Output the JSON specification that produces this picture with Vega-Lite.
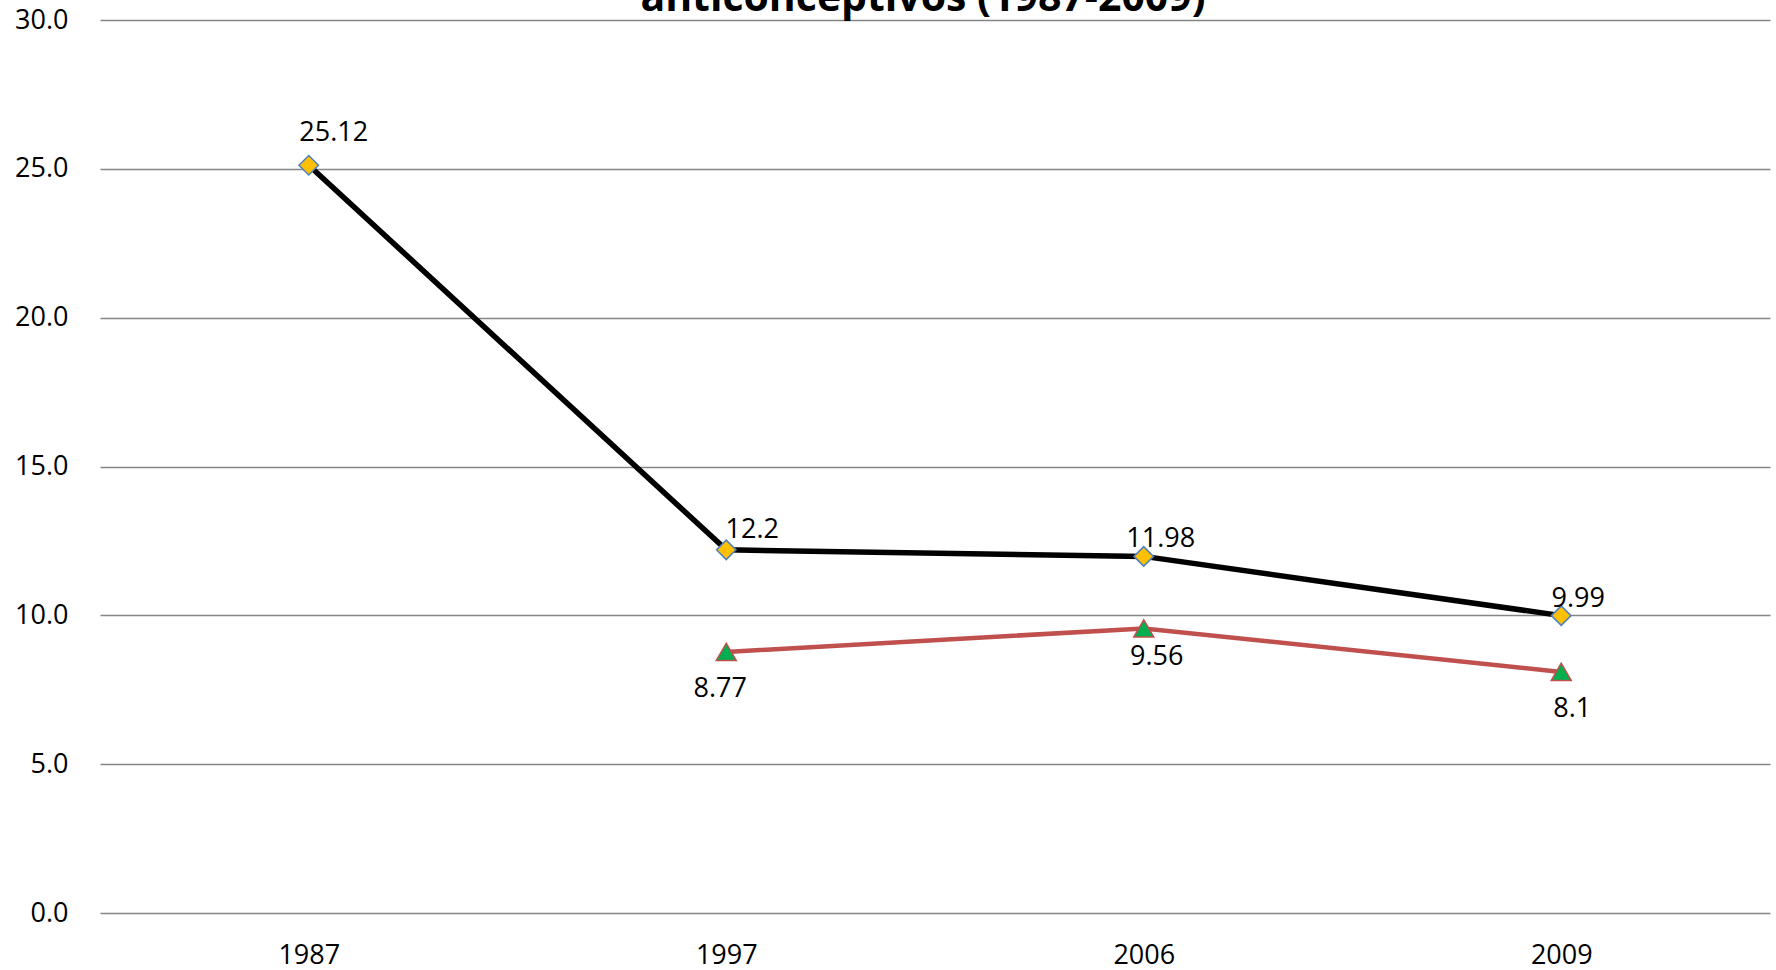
{
  "$schema": "https://vega.github.io/schema/vega-lite/v6.json",
  "width": 1670,
  "height": 893,
  "autosize": {"type": "none"},
  "padding": {"left": 100, "top": 20, "right": 6, "bottom": 57},
  "background": "white",
  "title": {
    "text": "anticonceptivos (1987-2009)",
    "frame": "group",
    "anchor": "middle",
    "orient": "top",
    "offset": 0,
    "baseline": "alphabetic",
    "font": "Open Sans",
    "fontSize": 41,
    "fontWeight": "bold",
    "color": "black",
    "dx": -12,
    "dy": 46
  },
  "config": {"view": {"stroke": null}},
  "data": {
    "values": [
      {"serie": "Serie 1", "anio": "1987", "valor": 25.12},
      {"serie": "Serie 1", "anio": "1997", "valor": 12.2},
      {"serie": "Serie 1", "anio": "2006", "valor": 11.98},
      {"serie": "Serie 1", "anio": "2009", "valor": 9.99},
      {"serie": "Serie 2", "anio": "1997", "valor": 8.77},
      {"serie": "Serie 2", "anio": "2006", "valor": 9.56},
      {"serie": "Serie 2", "anio": "2009", "valor": 8.1}
    ]
  },
  "encoding": {
    "x": {
      "field": "anio",
      "type": "ordinal",
      "sort": ["1987", "1997", "2006", "2009"],
      "scale": {"type": "point", "padding": 0.5},
      "axis": {
        "title": null,
        "labelAngle": 0,
        "domain": false,
        "ticks": false,
        "tickSize": 0,
        "grid": false,
        "labelPadding": 50,
        "labelBaseline": "alphabetic",
        "labelFont": "Open Sans",
        "labelFontSize": 27,
        "labelColor": "black"
      }
    },
    "y": {
      "field": "valor",
      "type": "quantitative",
      "scale": {"domain": [0, 30], "nice": false},
      "axis": {
        "title": null,
        "values": [0, 5, 10, 15, 20, 25, 30],
        "format": ".1f",
        "grid": true,
        "gridColor": "#868686",
        "gridWidth": 1.5,
        "domain": false,
        "ticks": false,
        "tickSize": 0,
        "labelPadding": 32,
        "labelFont": "Open Sans",
        "labelFontSize": 27,
        "labelColor": "black"
      }
    }
  },
  "layer": [
    {
      "transform": [{"filter": "datum.serie === 'Serie 1'"}],
      "mark": {"type": "line", "color": "black", "strokeWidth": 5.5}
    },
    {
      "transform": [{"filter": "datum.serie === 'Serie 2'"}],
      "mark": {"type": "line", "color": "#C0504D", "strokeWidth": 4.5}
    },
    {
      "transform": [{"filter": "datum.serie === 'Serie 1'"}],
      "mark": {"type": "point", "shape": "diamond", "filled": true, "fill": "#FFC000", "stroke": "#4F81BD", "strokeWidth": 1.5, "size": 380, "opacity": 1}
    },
    {
      "transform": [{"filter": "datum.serie === 'Serie 2'"}],
      "mark": {"type": "point", "shape": "triangle-up", "filled": true, "fill": "#00B050", "stroke": "#C0504D", "strokeWidth": 1.5, "size": 400, "opacity": 1}
    },
    {
      "transform": [{"filter": "datum.serie === 'Serie 1' && datum.anio === '1987'"}],
      "mark": {"type": "text", "font": "Open Sans", "fontSize": 27, "color": "black", "align": "center", "baseline": "alphabetic", "dx": 25, "dy": -24},
      "encoding": {"text": {"field": "valor", "type": "quantitative", "format": ""}}
    },
    {
      "transform": [{"filter": "datum.serie === 'Serie 1' && datum.anio === '1997'"}],
      "mark": {"type": "text", "font": "Open Sans", "fontSize": 27, "color": "black", "align": "center", "baseline": "alphabetic", "dx": 26, "dy": -12},
      "encoding": {"text": {"field": "valor", "type": "quantitative", "format": ""}}
    },
    {
      "transform": [{"filter": "datum.serie === 'Serie 1' && (datum.anio === '2006' || datum.anio === '2009')"}],
      "mark": {"type": "text", "font": "Open Sans", "fontSize": 27, "color": "black", "align": "center", "baseline": "alphabetic", "dx": 17, "dy": -9},
      "encoding": {"text": {"field": "valor", "type": "quantitative", "format": ""}}
    },
    {
      "transform": [{"filter": "datum.serie === 'Serie 2' && datum.anio === '1997'"}],
      "mark": {"type": "text", "font": "Open Sans", "fontSize": 27, "color": "black", "align": "center", "baseline": "alphabetic", "dx": -6, "dy": 45},
      "encoding": {"text": {"field": "valor", "type": "quantitative", "format": ""}}
    },
    {
      "transform": [{"filter": "datum.serie === 'Serie 2' && datum.anio === '2006'"}],
      "mark": {"type": "text", "font": "Open Sans", "fontSize": 27, "color": "black", "align": "center", "baseline": "alphabetic", "dx": 13, "dy": 37},
      "encoding": {"text": {"field": "valor", "type": "quantitative", "format": ""}}
    },
    {
      "transform": [{"filter": "datum.serie === 'Serie 2' && datum.anio === '2009'"}],
      "mark": {"type": "text", "font": "Open Sans", "fontSize": 27, "color": "black", "align": "center", "baseline": "alphabetic", "dx": 11, "dy": 45},
      "encoding": {"text": {"field": "valor", "type": "quantitative", "format": ""}}
    }
  ]
}
